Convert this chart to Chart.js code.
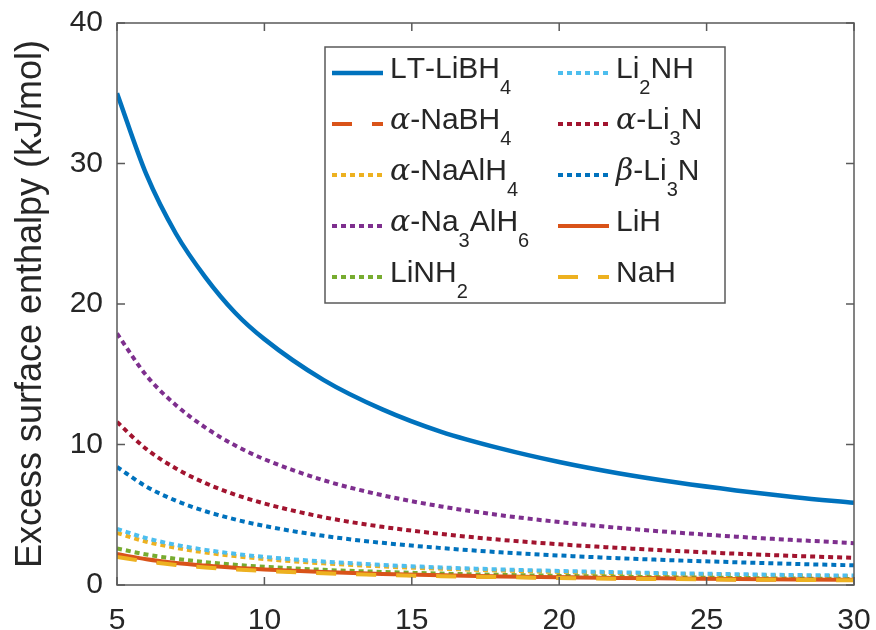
<!DOCTYPE html>
<html>
<head>
<meta charset="utf-8">
<script src="https://cdn.jsdelivr.net/npm/chart.js@4"></script>
<style>
  body { margin: 0; background: #fff; }
  #wrap { width: 876px; height: 630px; }
</style>
</head>
<body>
<div id="wrap"><canvas id="chart" width="876" height="630"></canvas></div>
<script>
// particle size (x) and excess surface enthalpy values
const X_VALUES = [5, 6, 7, 8, 9, 10, 12, 14, 16, 18, 20, 22, 24, 26, 28, 30];

const LT_LIBH4   = [35.0, 29.2, 25.0, 21.9, 19.4, 17.5, 14.6, 12.5, 10.9, 9.72, 8.75, 7.95, 7.29, 6.73, 6.25, 5.85];
const NABH4      = [2.10, 1.75, 1.50, 1.31, 1.17, 1.05, 0.88, 0.75, 0.66, 0.58, 0.53, 0.48, 0.44, 0.40, 0.38, 0.35];
const NAALH4     = [3.70, 3.08, 2.64, 2.31, 2.06, 1.85, 1.54, 1.32, 1.16, 1.03, 0.93, 0.84, 0.77, 0.71, 0.66, 0.62];
const NA3ALH6    = [17.9, 14.9, 12.8, 11.2, 9.94, 8.95, 7.46, 6.39, 5.59, 4.97, 4.48, 4.07, 3.73, 3.44, 3.20, 2.98];
const LINH2      = [2.60, 2.17, 1.86, 1.63, 1.44, 1.30, 1.08, 0.93, 0.81, 0.72, 0.65, 0.59, 0.54, 0.50, 0.46, 0.43];
const LI2NH      = [4.00, 3.33, 2.86, 2.50, 2.22, 2.00, 1.67, 1.43, 1.25, 1.11, 1.00, 0.91, 0.83, 0.77, 0.71, 0.67];
const A_LI3N     = [11.6, 9.67, 8.29, 7.25, 6.44, 5.80, 4.83, 4.14, 3.63, 3.22, 2.90, 2.64, 2.42, 2.23, 2.07, 1.93];
const B_LI3N     = [8.40, 7.00, 6.00, 5.25, 4.67, 4.20, 3.50, 3.00, 2.63, 2.33, 2.10, 1.91, 1.75, 1.62, 1.50, 1.40];
const LIH        = [2.20, 1.83, 1.57, 1.38, 1.22, 1.10, 0.92, 0.79, 0.69, 0.61, 0.55, 0.50, 0.46, 0.42, 0.39, 0.37];
const NAH        = [2.00, 1.67, 1.43, 1.25, 1.11, 1.00, 0.83, 0.71, 0.63, 0.56, 0.50, 0.45, 0.42, 0.38, 0.36, 0.33];

// legend labels: "_" marks a subscript character
const LABELS = ['LT-LiBH_4', 'α-NaBH_4', 'α-NaAlH_4', 'α-Na_3AlH_6', 'LiNH_2',
                'Li_2NH', 'α-Li_3N', 'β-Li_3N', 'LiH', 'NaH'];
const SERIES = [LT_LIBH4, NABH4, NAALH4, NA3ALH6, LINH2, LI2NH, A_LI3N, B_LI3N, LIH, NAH];

const X_TICKS = [5, 10, 15, 20, 25, 30];
const Y_TICKS = [0, 10, 20, 30, 40];
const Y_TITLE = 'Excess surface enthalpy (kJ/mol)';

// --- styles ---
const DOT = [5, 4];
const DASH = [20, 20];
const STYLES = [
  { color: '#0072BD', dash: [], width: 4.5 },
  { color: '#D95319', dash: DASH, width: 4 },
  { color: '#EDB120', dash: DOT, width: 4 },
  { color: '#7E2F8E', dash: DOT, width: 4 },
  { color: '#77AC30', dash: DOT, width: 4 },
  { color: '#4DBEEE', dash: DOT, width: 4 },
  { color: '#A2142F', dash: DOT, width: 4 },
  { color: '#0072BD', dash: DOT, width: 4 },
  { color: '#D95319', dash: [], width: 4 },
  { color: '#EDB120', dash: DASH, width: 4 }
];

const TEXT_COLOR = '#262626';
const AXIS_COLOR = '#5a5a5a';
const FONT = '"Liberation Sans", Arial, Helvetica, sans-serif';

// draw "LiBH_4" style text with subscripts and italic greek
function drawRichText(ctx, str, x, y, size) {
  let cx = x;
  for (let i = 0; i < str.length; i++) {
    let ch = str[i];
    let sub = false;
    if (ch === '_') { sub = true; i++; ch = str[i]; }
    if (ch === 'α' || ch === 'β') {
      ctx.font = 'italic ' + size + 'px "DejaVu Serif", "Liberation Serif", serif';
    } else if (sub) {
      ctx.font = Math.round(size * 0.68) + 'px ' + FONT;
    } else {
      ctx.font = size + 'px ' + FONT;
    }
    ctx.fillText(ch, cx, sub ? y + 16 : y);
    cx += ctx.measureText(ch).width;
  }
}

const frameAndLegend = {
  id: 'frameAndLegend',
  afterDraw(chart) {
    const { ctx, chartArea: a, scales } = chart;
    ctx.save();
    // axes box
    ctx.strokeStyle = AXIS_COLOR;
    ctx.lineWidth = 1.5;
    ctx.setLineDash([]);
    ctx.strokeRect(a.left, a.top, a.right - a.left, a.bottom - a.top);
    // inward ticks
    const tl = 8;
    ctx.beginPath();
    X_TICKS.forEach(v => {
      const px = scales.x.getPixelForValue(v);
      ctx.moveTo(px, a.bottom); ctx.lineTo(px, a.bottom - tl);
      ctx.moveTo(px, a.top); ctx.lineTo(px, a.top + tl);
    });
    Y_TICKS.forEach(v => {
      const py = scales.y.getPixelForValue(v);
      ctx.moveTo(a.left, py); ctx.lineTo(a.left + tl, py);
      ctx.moveTo(a.right, py); ctx.lineTo(a.right - tl, py);
    });
    ctx.stroke();

    // legend box
    const bx = 325, by = 47, bw = 400, bh = 256;
    ctx.fillStyle = '#fff';
    ctx.fillRect(bx, by, bw, bh);
    ctx.strokeRect(bx, by, bw, bh);

    const rowY = [73, 124, 175, 226, 277];
    ctx.textBaseline = 'alphabetic';
    LABELS.forEach((label, i) => {
      const col = Math.floor(i / 5);
      const row = i % 5;
      const lx = col === 0 ? 332 : 558;
      const ly = rowY[row];
      const st = STYLES[i];
      ctx.strokeStyle = st.color;
      ctx.lineWidth = st.width;
      ctx.setLineDash(st.dash);
      ctx.beginPath();
      ctx.moveTo(lx, ly);
      ctx.lineTo(lx + 51, ly);
      ctx.stroke();
      ctx.fillStyle = TEXT_COLOR;
      drawRichText(ctx, label, lx + 58, ly + 5, 30);
    });
    ctx.restore();
  }
};

const datasets = SERIES.map((vals, i) => ({
  label: LABELS[i],
  data: X_VALUES.map((x, j) => ({ x: x, y: vals[j] })),
  borderColor: STYLES[i].color,
  borderWidth: STYLES[i].width,
  borderDash: STYLES[i].dash,
  pointRadius: 0,
  fill: false,
  cubicInterpolationMode: 'monotone',
  order: SERIES.length - i
}));

new Chart(document.getElementById('chart'), {
  type: 'line',
  data: { datasets },
  options: {
    responsive: false,
    animation: false,
    devicePixelRatio: 1,
    layout: { padding: { top: 23, right: 22, left: 0, bottom: 0 } },
    plugins: {
      legend: { display: false },
      tooltip: { enabled: false }
    },
    scales: {
      x: {
        type: 'linear',
        min: 5, max: 30,
        grid: { display: false, drawTicks: false },
        border: { display: false },
        afterBuildTicks: s => { s.ticks = X_TICKS.map(v => ({ value: v })); },
        afterFit: s => { s.height = 45; s.paddingLeft = 0; s.paddingRight = 0; },
        ticks: { color: TEXT_COLOR, font: { size: 30, family: FONT }, padding: 18, maxRotation: 0 }
      },
      y: {
        min: 0, max: 40,
        grid: { display: false, drawTicks: false },
        border: { display: false },
        afterBuildTicks: s => { s.ticks = Y_TICKS.map(v => ({ value: v })); },
        afterFit: s => { s.width = 117; s.paddingTop = 0; s.paddingBottom = 0; },
        ticks: { color: TEXT_COLOR, font: { size: 30, family: FONT }, padding: 14 },
        title: {
          display: true, text: Y_TITLE, color: TEXT_COLOR,
          font: { size: 36, family: FONT }, padding: { top: 9, bottom: 4 }
        }
      }
    }
  },
  plugins: [frameAndLegend]
});
</script>
</body>
</html>
